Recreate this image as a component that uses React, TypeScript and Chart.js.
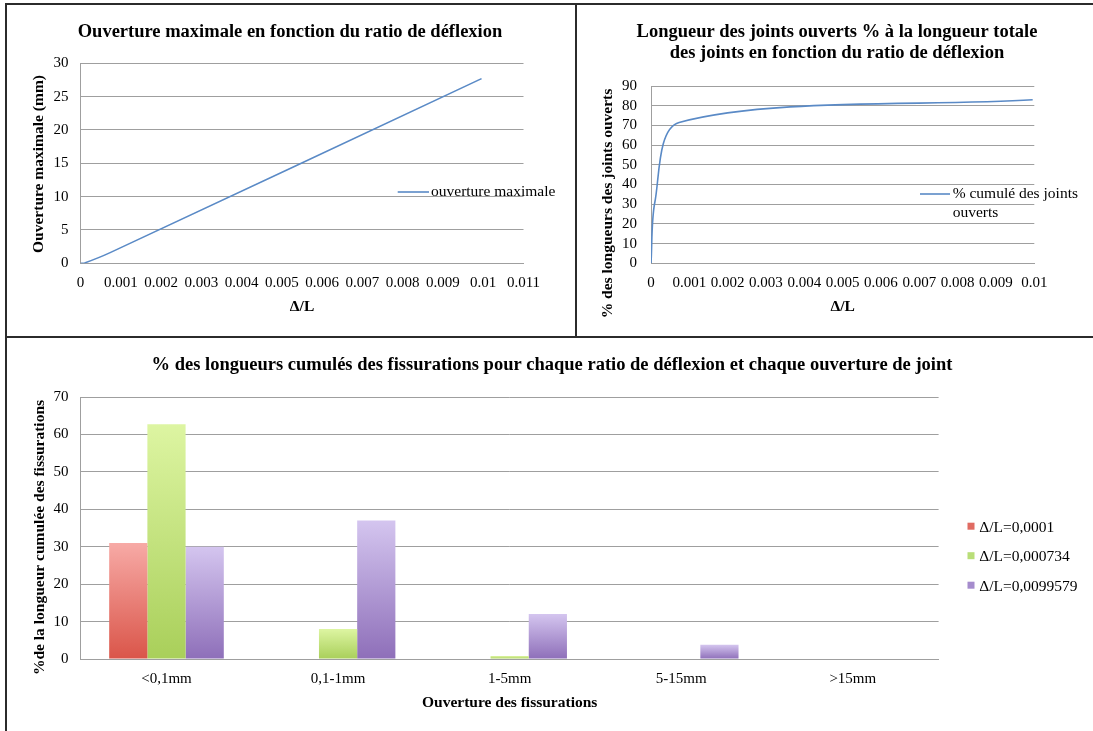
import React, { useEffect, useRef } from "react";
import { Chart, registerables } from "chart.js";

Chart.register(...registerables);

// ---------- DATA ----------
const deflectionRatios = [0, 0.0001, 0.000734, 0.0099579];
const maxOpeningMm = [0, 0.05, 1.6, 27.7];
const cumulativeOpenPct = [0, 31, 71.5, 83];

const xTicksLeft = [0, 0.001, 0.002, 0.003, 0.004, 0.005, 0.006, 0.007, 0.008, 0.009, 0.01, 0.011];
const yTicksLeft = [0, 5, 10, 15, 20, 25, 30];
const xTicksRight = [0, 0.001, 0.002, 0.003, 0.004, 0.005, 0.006, 0.007, 0.008, 0.009, 0.01];
const yTicksRight = [0, 10, 20, 30, 40, 50, 60, 70, 80, 90];

const crackCategories = ["<0,1mm", "0,1-1mm", "1-5mm", "5-15mm", ">15mm"];
const seriesLabels = ["Δ/L=0,0001", "Δ/L=0,000734", "Δ/L=0,0099579"];
const seriesLow = [31, 0, 0, 0, 0];
const seriesMid = [62.7, 8, 0.8, 0, 0];
const seriesHigh = [30, 37, 12, 3.8, 0];
const yTicksBars = [0, 10, 20, 30, 40, 50, 60, 70];

// ---------- STYLE ----------
const FONT = '"Liberation Serif", "Times New Roman", serif';
const GRID = "#9f9f9f";
const LINE_BLUE = "#5a8ac6";
const BAR_COLORS = [
  { top: "#f7aaa6", bottom: "#da5549", legend: "#e06b62" },
  { top: "#ddf5a2", bottom: "#a9cf5a", legend: "#b9de78" },
  { top: "#d4c5ef", bottom: "#8e6fb9", legend: "#a58ccd" },
];

const fmtTick = (v: number) => (v === 0 ? "0" : String(Number(v.toFixed(4))));

type LegendItem = { datasetIndex: number; kind: "line" | "box"; color: string };
type Decor = {
  title: { lines: string[]; x: number; y: number; lineHeight: number; size: number };
  yTitle: { text: string; x: number; y: number };
  legend: {
    items: LegendItem[];
    sampleX0: number;
    sampleX1: number;
    textX: number;
    y: number;
    spacing: number;
    lineGap: number;
    maxWidth: number;
  };
};

function wrap(ctx: CanvasRenderingContext2D, text: string, maxWidth: number): string[] {
  const words = text.split(" ");
  const lines: string[] = [];
  let cur = "";
  for (const w of words) {
    const t = cur ? cur + " " + w : w;
    if (ctx.measureText(t).width > maxWidth && cur) {
      lines.push(cur);
      cur = w;
    } else cur = t;
  }
  if (cur) lines.push(cur);
  return lines;
}

function makeDecor(d: Decor) {
  return {
    id: "decor",
    afterDraw(chart: any) {
      const ctx: CanvasRenderingContext2D = chart.ctx;
      // chart title
      ctx.save();
      ctx.font = `bold ${d.title.size}px ${FONT}`;
      ctx.fillStyle = "#000";
      ctx.textAlign = "center";
      ctx.textBaseline = "middle";
      d.title.lines.forEach((ln, i) => ctx.fillText(ln, d.title.x, d.title.y + i * d.title.lineHeight));
      ctx.restore();

      // rotated y-axis title
      ctx.save();
      ctx.font = `bold 15.5px ${FONT}`;
      ctx.fillStyle = "#000";
      ctx.textAlign = "center";
      ctx.textBaseline = "middle";
      ctx.translate(d.yTitle.x, d.yTitle.y);
      ctx.rotate(-Math.PI / 2);
      ctx.fillText(d.yTitle.text, 0, 0);
      ctx.restore();

      // legend
      ctx.save();
      ctx.font = `15.5px ${FONT}`;
      ctx.textAlign = "left";
      ctx.textBaseline = "middle";
      const L = d.legend;
      L.items.forEach((it, i) => {
        const y = L.y + i * L.spacing;
        const label = chart.data.datasets[it.datasetIndex].label as string;
        if (it.kind === "line") {
          ctx.strokeStyle = it.color;
          ctx.lineWidth = 1.6;
          ctx.beginPath();
          ctx.moveTo(L.sampleX0, y);
          ctx.lineTo(L.sampleX1, y);
          ctx.stroke();
        } else {
          const s = L.sampleX1 - L.sampleX0;
          ctx.fillStyle = it.color;
          ctx.fillRect(L.sampleX0, y - 5, s, s);
        }
        ctx.fillStyle = "#000";
        wrap(ctx, label, L.maxWidth).forEach((ln, j) => ctx.fillText(ln, L.textX, y + j * L.lineGap));
      });
      ctx.restore();
    },
  };
}

const tickFont = { family: FONT, size: 15 };
const axisTitleFont = { family: FONT, size: 15.5, weight: "bold" as const };

function linearOptions(p: {
  top: number;
  rightPad: number;
  yWidth: number;
  xHeight: number;
  xMax: number;
  xTicks: number[];
  yMax: number;
  yTicks: number[];
  yTickPad: number;
}) {
  return {
    responsive: false,
    animation: false as const,
    layout: { padding: { left: 0, right: p.rightPad, top: p.top, bottom: 0 } },
    plugins: {
      legend: { display: false },
      tooltip: { enabled: false },
      title: { display: false },
    },
    scales: {
      x: {
        type: "linear" as const,
        min: 0,
        max: p.xMax,
        afterBuildTicks: (a: any) => {
          a.ticks = p.xTicks.map((value) => ({ value }));
        },
        afterFit: (s: any) => {
          s.height = p.xHeight;
        },
        ticks: {
          callback: (v: any) => fmtTick(Number(v)),
          color: "#000",
          font: tickFont,
          padding: 11,
          maxRotation: 0,
          autoSkip: false,
        },
        grid: { display: false, drawTicks: false },
        border: { display: true, color: GRID, width: 1 },
        title: {
          display: true,
          text: "Δ/L",
          color: "#000",
          font: axisTitleFont,
          padding: { top: 0, bottom: 20 },
        },
      },
      y: {
        type: "linear" as const,
        min: 0,
        max: p.yMax,
        afterBuildTicks: (a: any) => {
          a.ticks = p.yTicks.map((value) => ({ value }));
        },
        afterFit: (s: any) => {
          s.width = p.yWidth;
        },
        ticks: { color: "#000", font: tickFont, padding: p.yTickPad, autoSkip: false },
        grid: { color: GRID, lineWidth: 1, drawTicks: false },
        border: { display: true, color: GRID, width: 1 },
      },
    },
  };
}

function useChart(ref: React.RefObject<HTMLCanvasElement | null>, build: () => any) {
  useEffect(() => {
    if (!ref.current) return;
    const chart = new Chart(ref.current, build());
    return () => chart.destroy();
  }, []);
}

function OpeningChart() {
  const ref = useRef<HTMLCanvasElement>(null);
  useChart(ref, () => ({
    type: "line",
    data: {
      datasets: [
        {
          label: "ouverture maximale",
          data: deflectionRatios.map((x, i) => ({ x, y: maxOpeningMm[i] })),
          borderColor: LINE_BLUE,
          borderWidth: 1.6,
          pointRadius: 0,
          tension: 0.3,
          fill: false,
        },
      ],
    },
    options: linearOptions({
      top: 58.3,
      rightPad: 51.5,
      yWidth: 73.6,
      xHeight: 72.7,
      xMax: 0.011,
      xTicks: xTicksLeft,
      yMax: 30,
      yTicks: yTicksLeft,
      yTickPad: 12,
    }),
    plugins: [
      makeDecor({
        title: { lines: ["Ouverture maximale en fonction du ratio de déflexion"], x: 283, y: 27, lineHeight: 21, size: 18.5 },
        yTitle: { text: "Ouverture maximale (mm)", x: 32, y: 159 },
        legend: {
          items: [{ datasetIndex: 0, kind: "line", color: LINE_BLUE }],
          sampleX0: 390.7,
          sampleX1: 422,
          textX: 424,
          y: 187,
          spacing: 20,
          lineGap: 19,
          maxWidth: 200,
        },
      }),
    ],
  }));
  return <canvas ref={ref} width={568} height={331} style={{ position: "absolute", left: 7, top: 5 }} />;
}

function JointsChart() {
  const ref = useRef<HTMLCanvasElement>(null);
  useChart(ref, () => ({
    type: "line",
    data: {
      datasets: [
        {
          label: "% cumulé des joints ouverts",
          data: deflectionRatios.map((x, i) => ({ x, y: cumulativeOpenPct[i] })),
          borderColor: LINE_BLUE,
          borderWidth: 1.6,
          pointRadius: 0,
          tension: 0.3,
          fill: false,
        },
      ],
    },
    options: linearOptions({
      top: 81,
      rightPad: 58.7,
      yWidth: 74,
      xHeight: 72.7,
      xMax: 0.01,
      xTicks: xTicksRight,
      yMax: 90,
      yTicks: yTicksRight,
      yTickPad: 14,
    }),
    plugins: [
      makeDecor({
        title: {
          lines: ["Longueur des joints ouverts % à la longueur totale", "des joints en fonction du ratio de déflexion"],
          x: 260,
          y: 27,
          lineHeight: 21,
          size: 18.5,
        },
        yTitle: { text: "% des longueurs des joints ouverts", x: 31.3, y: 198.5 },
        legend: {
          items: [{ datasetIndex: 0, kind: "line", color: LINE_BLUE }],
          sampleX0: 343,
          sampleX1: 373,
          textX: 375.7,
          y: 189,
          spacing: 20,
          lineGap: 19,
          maxWidth: 135,
        },
      }),
    ],
  }));
  return <canvas ref={ref} width={516} height={331} style={{ position: "absolute", left: 577, top: 5 }} />;
}

const gradientFill = (top: string, bottom: string) => (c: any) => {
  const chart = c.chart;
  const y = chart.scales && chart.scales.y;
  if (!y || c.type !== "data") return bottom;
  const v = Number(c.raw);
  const y0 = y.getPixelForValue(0);
  const y1 = y.getPixelForValue(v);
  if (!isFinite(y0) || !isFinite(y1) || Math.abs(y0 - y1) < 0.5) return bottom;
  const g = chart.ctx.createLinearGradient(0, y1, 0, y0);
  g.addColorStop(0, top);
  g.addColorStop(1, bottom);
  return g;
};

function CracksChart() {
  const ref = useRef<HTMLCanvasElement>(null);
  const seriesValues = [seriesLow, seriesMid, seriesHigh];
  useChart(ref, () => ({
    type: "bar",
    data: {
      labels: crackCategories,
      datasets: seriesValues.map((vals, i) => ({
        label: seriesLabels[i],
        data: vals,
        backgroundColor: gradientFill(BAR_COLORS[i].top, BAR_COLORS[i].bottom),
        borderWidth: 0,
        barPercentage: 1,
        categoryPercentage: 0.668,
      })),
    },
    options: {
      responsive: false,
      animation: false,
      layout: { padding: { left: 0, right: 154.4, top: 59, bottom: 0 } },
      plugins: {
        legend: { display: false },
        tooltip: { enabled: false },
        title: { display: false },
      },
      scales: {
        x: {
          afterFit: (s: any) => {
            s.height = 72;
          },
          ticks: { color: "#000", font: tickFont, padding: 11.3, maxRotation: 0, autoSkip: false },
          grid: { display: false, drawTicks: false },
          border: { display: true, color: GRID, width: 1 },
          title: {
            display: true,
            text: "Ouverture des fissurations",
            color: "#000",
            font: axisTitleFont,
            padding: { top: 0, bottom: 18.7 },
          },
        },
        y: {
          min: 0,
          max: 70,
          afterBuildTicks: (a: any) => {
            a.ticks = yTicksBars.map((value) => ({ value }));
          },
          afterFit: (s: any) => {
            s.width = 73.7;
          },
          ticks: { color: "#000", font: tickFont, padding: 12.3, autoSkip: false },
          grid: { color: GRID, lineWidth: 1, drawTicks: false },
          border: { display: true, color: GRID, width: 1 },
        },
      },
    },
    plugins: [
      makeDecor({
        title: {
          lines: ["% des longueurs cumulés des fissurations pour chaque ratio de déflexion et chaque ouverture de joint"],
          x: 545,
          y: 27,
          lineHeight: 21,
          size: 18.5,
        },
        yTitle: { text: "%de la longueur cumulée des fissurations", x: 33.3, y: 199.5 },
        legend: {
          items: BAR_COLORS.map((c, i) => ({ datasetIndex: i, kind: "box" as const, color: c.legend })),
          sampleX0: 960.5,
          sampleX1: 967.5,
          textX: 972.2,
          y: 189.7,
          spacing: 29.5,
          lineGap: 19,
          maxWidth: 200,
        },
      }),
    ],
  }));
  return <canvas ref={ref} width={1086} height={393} style={{ position: "absolute", left: 7, top: 338 }} />;
}

const frameLine = (s: React.CSSProperties): React.CSSProperties => ({ position: "absolute", background: "#2b2b2b", ...s });

export default function App() {
  return (
    <div style={{ position: "absolute", left: 0, top: 0, width: 1093, height: 731, background: "#fff", overflow: "hidden" }}>
      <OpeningChart />
      <JointsChart />
      <CracksChart />
      <div style={frameLine({ left: 5, top: 3, width: 1088, height: 2 })} />
      <div style={frameLine({ left: 5, top: 3, width: 2, height: 728 })} />
      <div style={frameLine({ left: 575, top: 3, width: 2, height: 334 })} />
      <div style={frameLine({ left: 5, top: 336, width: 1088, height: 2 })} />
    </div>
  );
}
